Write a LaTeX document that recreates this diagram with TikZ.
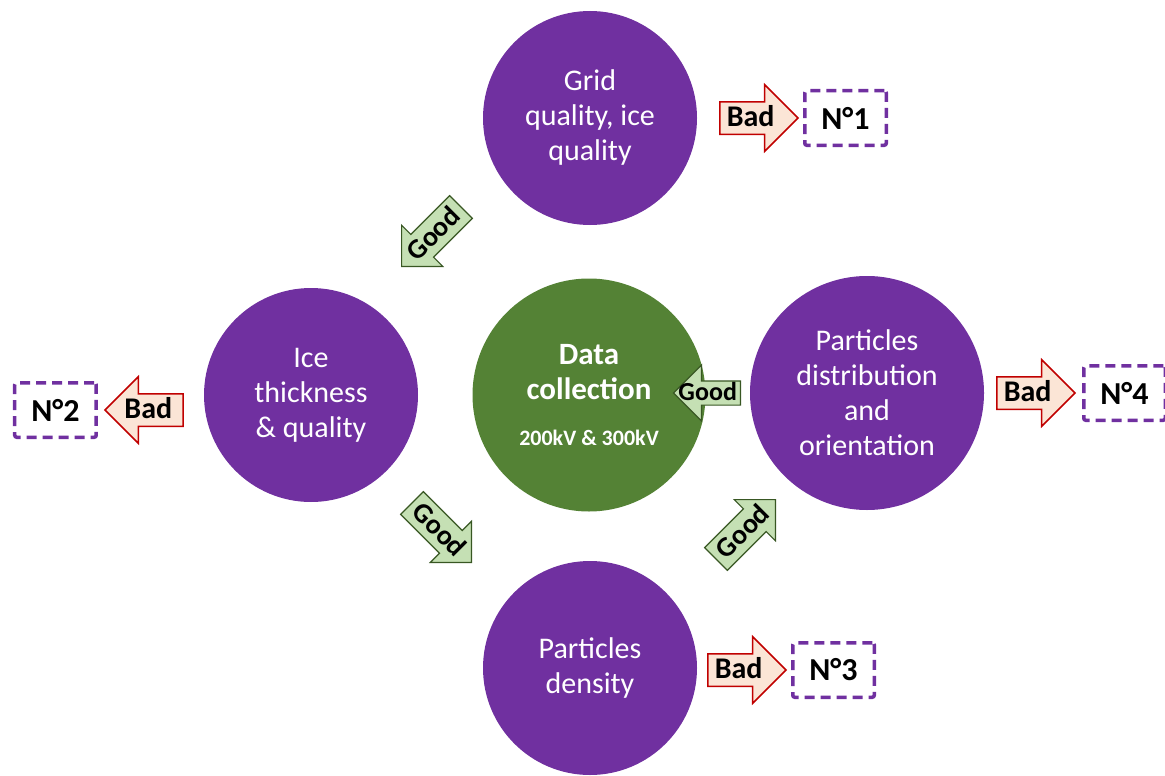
\documentclass[tikz,border=0pt]{standalone}
\usepackage{fontspec}
\setmainfont{Carlito}
\usepackage{tikz}
\usetikzlibrary{arrows.meta,positioning,shapes.arrows}
\definecolor{stagepurple}{HTML}{7030A0}
\definecolor{coregreen}{HTML}{548235}
\definecolor{goodfill}{HTML}{C5E0B4}
\definecolor{gooddraw}{HTML}{385723}
\definecolor{badfill}{HTML}{FBE5D6}
\definecolor{baddraw}{HTML}{C00000}

\begin{document}
\begin{tikzpicture}[
    x=1pt, y=-1pt,
    stage/.style={circle, fill=stagepurple, text=white, align=center, inner sep=0pt,
                  minimum size=214pt, font=\fontsize{30}{35}\selectfont},
    core/.style={circle, fill=coregreen, text=white, align=center, inner sep=0pt,
                 minimum size=233pt, font=\fontsize{31}{35}\selectfont\bfseries},
    good/.style={single arrow, draw=gooddraw, fill=goodfill, line width=1.2pt,
                 single arrow tip angle=90, single arrow head extend=16pt,
                 minimum height=67pt, inner xsep=2pt, inner ysep=2pt,
                 text height=17pt, text depth=2pt,
                 font=\fontsize{26}{26}\selectfont\bfseries},
    slanted/.style={inner ysep=5pt, text height=19pt, single arrow head extend=13pt,
                    minimum height=84pt, font=\fontsize{28}{28}\selectfont\bfseries},
    bad/.style={single arrow, draw=baddraw, fill=badfill, line width=1.5pt,
                single arrow tip angle=90, single arrow head extend=17pt,
                minimum height=78pt, inner xsep=3pt, inner ysep=5pt,
                text height=19pt, text depth=2pt,
                font=\fontsize{30}{30}\selectfont\bfseries},
    result/.style={rectangle, rounded corners=2pt, draw=stagepurple, fill=white,
                   dash pattern=on 10pt off 6pt, line width=3.5pt,
                   minimum width=81.5pt, minimum height=54.5pt,
                   font=\fontsize{32}{32}\selectfont\bfseries},
]
\useasboundingbox (0,0) rectangle (1165,776);

% stages
\node[stage] (grid) at (590,118) {Grid\\quality, ice\\quality};
\node[stage] (thick) at (311,395) {Ice\\thickness\\\& quality};
\node[core] (data) at (589,395) {Data\\collection\\[11pt]{\fontsize{22}{26}\selectfont 200kV \& 300kV}};
\node[stage, minimum size=234pt] (orient) at (867,393) {Particles\\distribution\\and\\orientation};
\node[stage] (dens) at (590,668) {Particles\\density};

% good transitions
\node[good, slanted, rotate=45, shape border rotate=180, anchor=tip] (good1) at (401,267) {\makebox[54pt][r]{Good}};
\node[good, slanted, rotate=-45, anchor=tip] (good2) at (472,563) {\makebox[54pt][l]{Good}};
\node[good, slanted, rotate=45, anchor=tip] (good3) at (776,499) {\makebox[54pt][l]{Good}};
\node[good, shape border rotate=180, anchor=tail] (good4) at (741,393) {\makebox[36pt][r]{Good\hspace{-6pt}}};

% bad exits
\node[bad, anchor=tail] (bad1) at ([xshift=22pt]grid.east) {\makebox[40pt][l]{\hspace{-4pt}Bad}};
\node[result, right=4pt of bad1.tip] (n1) {N°1};

\node[bad, shape border rotate=180, anchor=tail] (bad2) at ([xshift=-20pt,yshift=-15pt]thick.west) {\makebox[40pt][r]{Bad}};
\node[result, left=6pt of bad2.tip] (n2) {N°2};

\node[bad, anchor=tail] (bad3) at ([xshift=10pt,yshift=-2pt]dens.east) {\makebox[40pt][l]{\hspace{-4pt}Bad}};
\node[result, right=4pt of bad3.tip] (n3) {N°3};

\node[bad, anchor=tail] (bad4) at ([xshift=12pt]orient.east) {\makebox[40pt][l]{\hspace{-4pt}Bad}};
\node[result, right=6pt of bad4.tip] (n4) {N°4};
\end{tikzpicture}
\end{document}
